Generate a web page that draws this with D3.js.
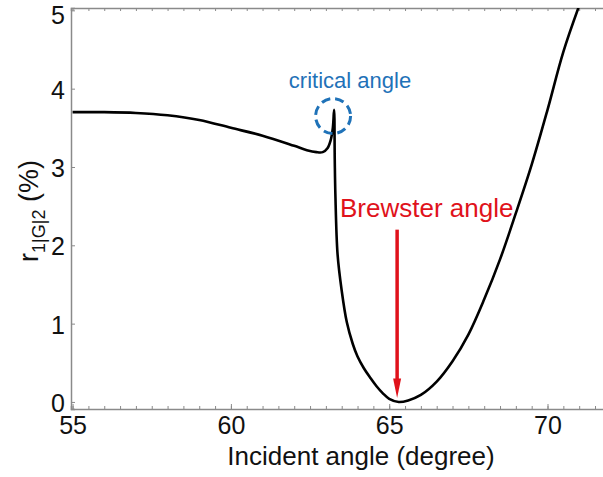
<!DOCTYPE html>
<html>
<head>
<meta charset="utf-8">
<script src="https://cdn.jsdelivr.net/npm/d3@7"></script>
<style>
  body { margin: 0; background: #fff; }
  svg text { font-family: "Liberation Sans", Arial, sans-serif; }
</style>
</head>
<body>
<svg id="chart" width="603" height="477"></svg>
<script>
// incident angle (degree) and reflectance r_1|G|2 (%)
const angles = [55.0, 56.0, 57.0, 58.0, 59.0, 60.0, 61.0, 62.0, 62.4, 62.7, 62.9,
  63.05, 63.15, 63.22, 63.26, 63.28, 63.30, 63.37, 63.50, 63.66, 63.85, 64.0, 64.2, 64.4,
  64.6, 64.8, 65.0, 65.3, 65.6, 66.0, 66.5, 67.0, 67.5, 68.0, 68.5, 69.0, 69.5, 70.0, 70.5, 71.0];
const reflect = [3.70, 3.70, 3.69, 3.66, 3.60, 3.50, 3.40, 3.27, 3.215, 3.19, 3.19,
  3.24, 3.34, 3.50, 3.73, 3.10, 2.65, 1.88, 1.42, 1.02, 0.74, 0.58, 0.43, 0.31,
  0.20, 0.11, 0.04, 0.0, 0.02, 0.09, 0.26, 0.52, 0.86, 1.31, 1.82, 2.41, 3.03, 3.73, 4.47, 5.06];

const xMajor = [55, 60, 65, 70];
const yTicks = [0, 1, 2, 3, 4, 5];

const criticalAngle = 63.26;
const brewsterAngle = 65.25;

let svg = d3.select("#chart");
let mLeft = 71, mRight = 652, mTop = 8, mBottom = 409;

let x = d3.scaleLinear().domain([54.95, 73.3]).range([mLeft, mRight]);
let y = d3.scaleLinear().domain([-0.09, 5.03]).range([mBottom, mTop]);

let xMinor = d3.range(55, 73.01, 0.5);

svg.append("clipPath").attr("id", "plotclip")
  .append("rect")
  .attr("x", mLeft).attr("y", mTop)
  .attr("width", mRight - mLeft).attr("height", mBottom - mTop);

function styleAxis(g) {
  g.select(".domain").attr("stroke", "#8a8a8a").attr("stroke-width", 1.5);
  g.selectAll(".tick line").attr("stroke", "#8a8a8a").attr("stroke-width", 1);
  g.selectAll(".tick text").attr("fill", "#111").style("font-size", "25px");
}

// minor ticks, bottom and top
svg.append("g")
  .attr("transform", `translate(0,${mBottom})`)
  .call(d3.axisBottom(x).tickValues(xMinor).tickSize(-3).tickFormat(""))
  .call(styleAxis);
svg.append("g")
  .attr("transform", `translate(0,${mTop})`)
  .call(d3.axisTop(x).tickValues(xMinor).tickSize(-3).tickFormat(""))
  .call(styleAxis);

// major ticks with labels
svg.append("g")
  .attr("transform", `translate(0,${mBottom})`)
  .call(d3.axisBottom(x).tickValues(xMajor).tickSize(-5).tickPadding(7).tickFormat(d3.format("d")))
  .call(styleAxis)
  .call(g => g.select(".domain").remove());

svg.append("g")
  .attr("transform", `translate(${mLeft},0)`)
  .call(d3.axisLeft(y).tickValues(yTicks).tickSize(-4).tickPadding(6).tickFormat(d3.format("d")))
  .call(styleAxis)
  .call(g => g.selectAll(".tick text").attr("dy", d => d === 5 ? "0.52em" : "0.38em"));

// curve
let line = d3.line()
  .x((d, i) => x(angles[i]))
  .y(d => y(d))
  .curve(d3.curveCatmullRom.alpha(0.5));

svg.append("path")
  .datum(reflect)
  .attr("clip-path", "url(#plotclip)")
  .attr("d", line)
  .attr("fill", "none")
  .attr("stroke", "#000")
  .attr("stroke-width", 2.6);

// critical angle marker
svg.append("circle")
  .attr("cx", x(criticalAngle) - 1)
  .attr("cy", y(3.65))
  .attr("r", 17.5)
  .attr("fill", "none")
  .attr("stroke", "#1f72b8")
  .attr("stroke-width", 3)
  .attr("stroke-dasharray", "9,5");

svg.append("text")
  .attr("x", 350)
  .attr("y", 88)
  .attr("text-anchor", "middle")
  .attr("fill", "#1f72b8")
  .style("font-size", "22px")
  .text("critical angle");

// brewster angle arrow
svg.append("line")
  .attr("x1", x(brewsterAngle)).attr("x2", x(brewsterAngle))
  .attr("y1", y(2.2)).attr("y2", y(0.2))
  .attr("stroke", "#e0121b")
  .attr("stroke-width", 3.5);

svg.append("path")
  .attr("d", `M${x(brewsterAngle) - 4},${y(0.3)} L${x(brewsterAngle) + 4},${y(0.3)} L${x(brewsterAngle)},${y(0.05)} Z`)
  .attr("fill", "#e0121b");

svg.append("text")
  .attr("x", 340)
  .attr("y", 217)
  .attr("fill", "#e0121b")
  .style("font-size", "26px")
  .text("Brewster angle");

// axis titles
svg.append("text")
  .attr("x", 361)
  .attr("y", 465)
  .attr("text-anchor", "middle")
  .attr("fill", "#111")
  .style("font-size", "26px")
  .text("Incident angle (degree)");

let ylab = svg.append("text")
  .attr("transform", "translate(38,211) rotate(-90)")
  .attr("text-anchor", "middle")
  .attr("fill", "#111")
  .style("font-size", "27px");
ylab.append("tspan").text("r");
ylab.append("tspan").attr("dy", 7).style("font-size", "18px").text("1|G|2");
ylab.append("tspan").attr("dy", -7).text(" (%)");
</script>
</body>
</html>
